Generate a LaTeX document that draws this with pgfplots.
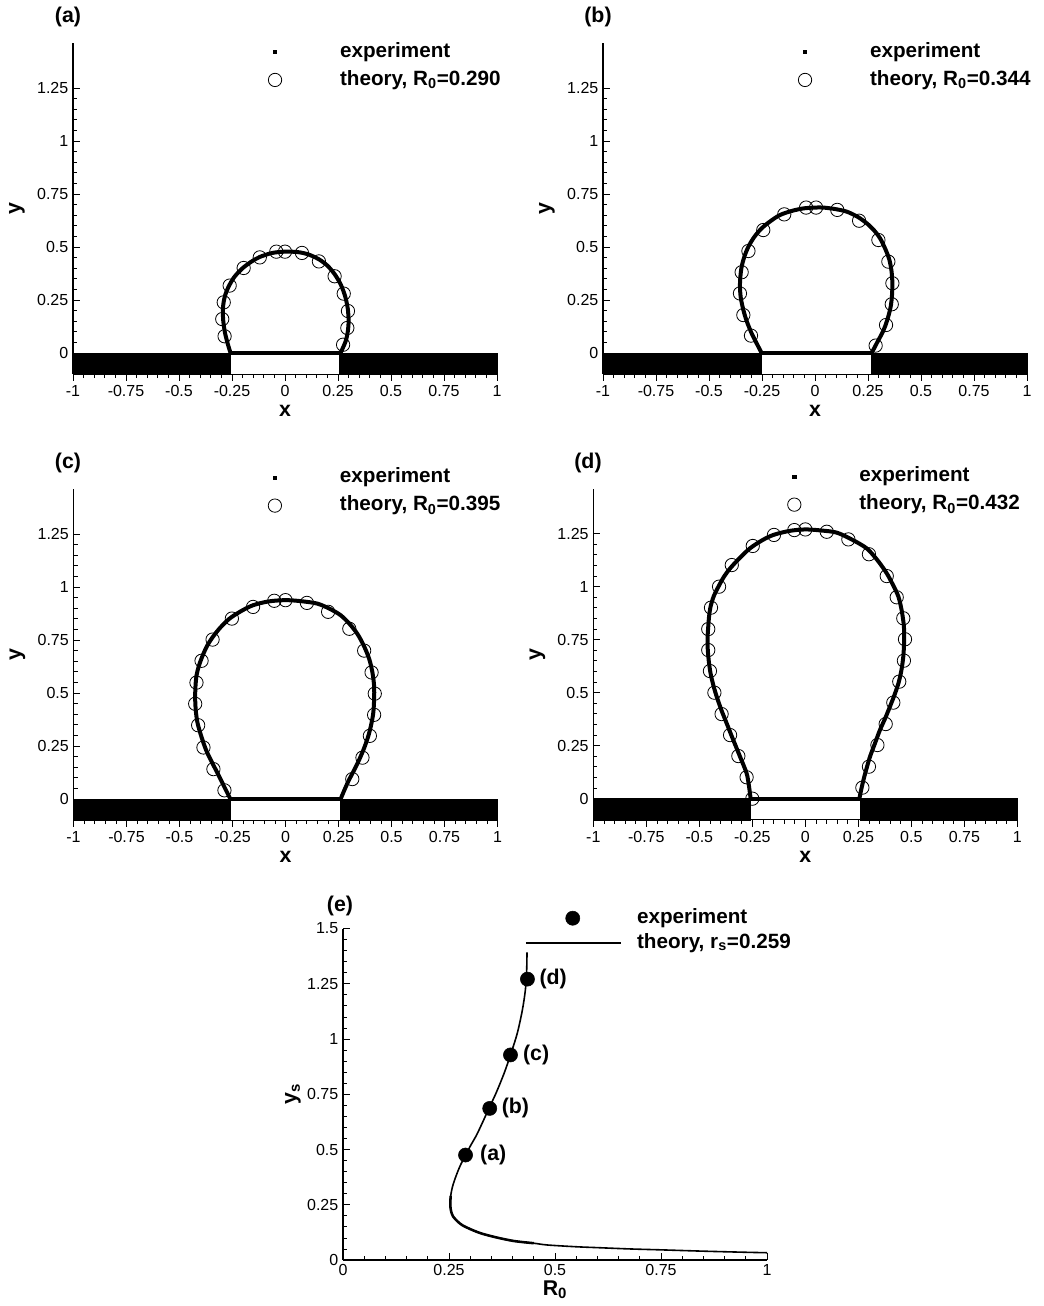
\documentclass[border=0pt]{standalone}
\usepackage{fontspec}
\setmainfont{Liberation Sans}
\usepackage{pgfplots}
\pgfplotsset{compat=1.18}
\pgfplotsset{
  common/.style={
    axis x line*=bottom, axis y line*=left,
    minor x tick num=4, minor y tick num=4,
    major tick length=5pt, minor tick length=3pt,
    tick style={black, line width=0.6pt},
    axis line style={black, line width=0.8pt},
    tick label style={font=\fontsize{12}{14}\selectfont, black},
    /pgf/number format/assume math mode=true,
    clip=false,
    legend cell align=left,
    legend style={draw=none, fill=none, inner sep=0pt, outer sep=0pt,
      font=\bfseries\fontsize{15.5}{18}\selectfont,
      nodes={inner sep=2.5pt, text height=12pt, text depth=4pt}},
  },
  bubble/.style={common, x=159pt, y=159pt, anchor=origin,
    xmin=-1, xmax=1, ymin=-0.1, ymax=1.46,
    xtick={-1,-0.75,-0.5,-0.25,0,0.25,0.5,0.75,1},
    ytick={0,0.25,0.5,0.75,1,1.25},
    xtick align=outside, ytick align=inside,
    xlabel={x}, ylabel={y},
    every axis x label/.style={at={(axis description cs:0.5,-0.112)}, anchor=center, font=\bfseries\fontsize{16}{19}\selectfont},
    every axis y label/.style={at={(axis description cs:-0.132,0.5)}, anchor=center, rotate=90, font=\bfseries\fontsize{16}{19}\selectfont},
  },
  legmark/.style={legend image code/.code={\path[draw=none,fill=none] (-8pt,-3pt) rectangle (46.25pt,3pt); \draw[##1] plot coordinates {(0pt,0pt)};}},
  legdot/.style={legend image code/.code={\path[draw=none,fill=none] (-35.25pt,-3pt) rectangle (46.25pt,3pt); \draw[##1] plot coordinates {(0pt,0pt)};}},
  legline/.style={legend image code/.code={\path[draw=none,fill=none] (-35.25pt,-3pt) rectangle (46.25pt,3pt); \draw[##1] (-35.25pt,0pt) -- (36pt,0pt);}},
  expline/.style={black, line width=3pt, smooth, forget plot},
  baseline/.style={black, line width=3pt, forget plot},
  theo/.style={legmark, black, only marks, mark=o, mark size=5pt, mark options={line width=0.6pt}},
  expleg/.style={legmark, black, only marks, mark=square*, mark size=1.2pt},
  bars/.style={black, fill=black, forget plot},
}
\begin{document}
\begin{tikzpicture}[x=1pt,y=1pt]
\useasboundingbox (0,0) rectangle (782.25,-979.5);
\tikzset{ttl/.style={font=\bfseries\fontsize{16}{19}\selectfont, inner sep=0pt}}
\node[ttl] at (51,-12.75) {(a)};
\node[ttl] at (448.5,-12.75) {(b)};
\node[ttl] at (51,-347.25) {(c)};
\node[ttl] at (441,-347.25) {(d)};
\node[ttl] at (255,-679.5) {(e)};

% ---------------- (a)
\begin{axis}[bubble, at={(213.75pt,-264.75pt)},
  legend style={at={(axis cs:-0.047,1.354)}, anchor=west, xshift=-8pt}]
\addplot[bars] coordinates {(-1,-0.1) (-0.258,-0.1) (-0.258,0) (-1,0) (-1,-0.1)};
\addplot[bars] coordinates {(0.258,-0.1) (1,-0.1) (1,0) (0.258,0) (0.258,-0.1)};
\addplot[baseline] coordinates {(-0.258,0) (0.260,0)};
\addplot[expline] coordinates {(-0.257,0) (-0.272,0.05) (-0.284,0.10) (-0.292,0.16) (-0.292,0.22) (-0.283,0.27) (-0.265,0.315) (-0.238,0.36) (-0.200,0.400) (-0.160,0.430) (-0.119,0.453) (-0.06,0.472) (0,0.478) (0.06,0.476) (0.110,0.465) (0.160,0.442) (0.200,0.412) (0.234,0.372) (0.262,0.325) (0.283,0.27) (0.296,0.21) (0.300,0.15) (0.296,0.10) (0.286,0.055) (0.262,0)};
\addlegendimage{expleg}
\addlegendentry{experiment}
\addplot[theo] coordinates {(-0.285,0.079) (-0.296,0.160) (-0.289,0.239) (-0.261,0.318) (-0.195,0.401) (-0.119,0.451) (-0.041,0.478) (0.0,0.478) (0.080,0.472) (0.160,0.432) (0.234,0.362) (0.277,0.280) (0.297,0.198) (0.294,0.118) (0.274,0.039)};
\addlegendentry{theory, R\textsubscript{0}=0.290}
\end{axis}

% ---------------- (b)
\begin{axis}[bubble, at={(611.25pt,-264.75pt)},
  legend style={at={(axis cs:-0.047,1.354)}, anchor=west, xshift=-8pt}]
\addplot[bars] coordinates {(-1,-0.1) (-0.254,-0.1) (-0.254,0) (-1,0) (-1,-0.1)};
\addplot[bars] coordinates {(0.266,-0.1) (1,-0.1) (1,0) (0.266,0) (0.266,-0.1)};
\addplot[baseline] coordinates {(-0.254,0) (0.266,0)};
\addplot[expline] coordinates {(-0.252,0) (-0.275,0.045) (-0.299,0.093) (-0.322,0.15) (-0.338,0.203) (-0.350,0.26) (-0.354,0.313) (-0.352,0.36) (-0.346,0.407) (-0.333,0.455) (-0.314,0.502) (-0.286,0.548) (-0.252,0.588) (-0.210,0.622) (-0.165,0.651) (-0.110,0.670) (-0.055,0.682) (0,0.686) (0.039,0.686) (0.095,0.679) (0.149,0.667) (0.200,0.643) (0.244,0.612) (0.280,0.577) (0.307,0.541) (0.332,0.49) (0.351,0.439) (0.361,0.385) (0.365,0.329) (0.363,0.27) (0.357,0.219) (0.345,0.17) (0.330,0.124) (0.315,0.09) (0.299,0.061) (0.283,0.03) (0.267,0)};
\addlegendimage{expleg}
\addlegendentry{experiment}
\addplot[theo] coordinates {(-0.302,0.082) (-0.338,0.179) (-0.354,0.281) (-0.346,0.381) (-0.314,0.481) (-0.244,0.580) (-0.145,0.654) (-0.042,0.686) (0.005,0.686) (0.105,0.675) (0.208,0.624) (0.299,0.533) (0.346,0.431) (0.365,0.329) (0.362,0.230) (0.335,0.132) (0.286,0.035)};
\addlegendentry{theory, R\textsubscript{0}=0.344}
\end{axis}

% ---------------- (c)
\begin{axis}[bubble, at={(214.125pt,-599.25pt)},
  legend style={at={(axis cs:-0.05,1.45)}, anchor=west, xshift=-8pt}]
\addplot[bars] coordinates {(-1,-0.1) (-0.260,-0.1) (-0.260,0) (-1,0) (-1,-0.1)};
\addplot[bars] coordinates {(0.260,-0.1) (1,-0.1) (1,0) (0.260,0) (0.260,-0.1)};
\addplot[baseline] coordinates {(-0.260,0) (0.260,0)};
\addplot[expline] coordinates {(-0.260,0) (-0.290,0.06) (-0.320,0.121) (-0.348,0.175) (-0.375,0.232) (-0.397,0.295) (-0.415,0.359) (-0.423,0.415) (-0.426,0.470) (-0.425,0.525) (-0.420,0.581) (-0.408,0.630) (-0.391,0.676) (-0.370,0.722) (-0.344,0.763) (-0.308,0.808) (-0.264,0.851) (-0.210,0.886) (-0.153,0.914) (-0.08,0.932) (0,0.938) (0.075,0.933) (0.149,0.922) (0.207,0.898) (0.260,0.867) (0.302,0.826) (0.339,0.779) (0.370,0.722) (0.395,0.660) (0.410,0.597) (0.418,0.533) (0.418,0.470) (0.414,0.406) (0.404,0.350) (0.390,0.295) (0.370,0.238) (0.347,0.184) (0.323,0.135) (0.299,0.089) (0.279,0.045) (0.260,0)};
\addlegendimage{expleg}
\addlegendentry{experiment}
\addplot[theo] coordinates {(-0.288,0.041) (-0.340,0.141) (-0.387,0.243) (-0.412,0.348) (-0.426,0.449) (-0.420,0.549) (-0.396,0.652) (-0.344,0.752) (-0.253,0.851) (-0.153,0.906) (-0.053,0.935) (0.0,0.938) (0.101,0.925) (0.201,0.883) (0.301,0.803) (0.371,0.700) (0.406,0.597) (0.421,0.497) (0.418,0.397) (0.398,0.298) (0.363,0.195) (0.315,0.094)};
\addlegendentry{theory, R\textsubscript{0}=0.395}
\end{axis}

% ---------------- (d)
\begin{axis}[bubble, at={(604pt,-599pt)},
  legend style={at={(axis cs:-0.052,1.453)}, anchor=west, xshift=-8pt}]
\addplot[bars] coordinates {(-1,-0.1) (-0.258,-0.1) (-0.258,0) (-1,0) (-1,-0.1)};
\addplot[bars] coordinates {(0.258,-0.1) (1,-0.1) (1,0) (0.258,0) (0.258,-0.1)};
\addplot[baseline] coordinates {(-0.258,0) (0.256,0)};
\addplot[expline] coordinates {(-0.258,0) (-0.266,0.06) (-0.277,0.12) (-0.308,0.198) (-0.340,0.277) (-0.371,0.355) (-0.396,0.418) (-0.418,0.481) (-0.434,0.535) (-0.447,0.591) (-0.456,0.654) (-0.461,0.717) (-0.461,0.765) (-0.458,0.811) (-0.454,0.86) (-0.447,0.906) (-0.432,0.955) (-0.410,1.0) (-0.385,1.045) (-0.355,1.086) (-0.310,1.135) (-0.261,1.181) (-0.205,1.218) (-0.151,1.244) (-0.075,1.263) (0,1.27) (0.075,1.265) (0.148,1.255) (0.220,1.222) (0.289,1.181) (0.340,1.125) (0.384,1.063) (0.415,1.005) (0.439,0.953) (0.455,0.885) (0.465,0.811) (0.466,0.74) (0.462,0.670) (0.453,0.605) (0.439,0.544) (0.420,0.488) (0.399,0.434) (0.377,0.38) (0.352,0.324) (0.328,0.26) (0.305,0.198) (0.288,0.14) (0.274,0.088) (0.263,0.04) (0.255,0)};
\addlegendimage{expleg}
\addlegendentry{experiment}
\addplot[theo] coordinates {(-0.250,0.0) (-0.277,0.101) (-0.316,0.201) (-0.355,0.300) (-0.395,0.399) (-0.429,0.500) (-0.450,0.602) (-0.458,0.701) (-0.458,0.800) (-0.445,0.901) (-0.407,1.000) (-0.347,1.102) (-0.248,1.192) (-0.148,1.244) (-0.052,1.267) (0.0,1.270) (0.101,1.259) (0.203,1.223) (0.300,1.153) (0.384,1.050) (0.431,0.950) (0.462,0.851) (0.470,0.752) (0.465,0.651) (0.443,0.552) (0.415,0.453) (0.379,0.352) (0.340,0.253) (0.300,0.151) (0.269,0.052)};
\addlegendentry{theory, R\textsubscript{0}=0.432}
\end{axis}

% ---------------- (e)
\begin{axis}[common, x=318pt, y=165.75pt, anchor=origin, at={(257.25pt,-945pt)},
  xmin=0, xmax=1, ymin=0, ymax=1.5,
  xtick={0,0.25,0.5,0.75,1}, ytick={0,0.25,0.5,0.75,1,1.25,1.5},
  tick align=inside,
  xlabel={R\textsubscript{0}}, ylabel={y\textsubscript{s}},
  every axis x label/.style={at={(axis description cs:0.5,-0.09)}, anchor=center, font=\bfseries\fontsize{16}{19}\selectfont},
  every axis y label/.style={at={(axis description cs:-0.118,0.5)}, anchor=center, rotate=90, font=\bfseries\fontsize{16}{19}\selectfont},
  legend style={at={(axis cs:0.54,1.49)}, anchor=west, xshift=-35.25pt,
    nodes={inner sep=2pt, text height=11pt, text depth=3.75pt}}]
\addlegendimage{legdot, black, only marks, mark=*, mark size=5.3pt}
\addlegendentry{experiment}
\addplot[legline, black, line width=1.2pt, smooth] coordinates {(0.434,1.392) (0.433,1.30) (0.430,1.22) (0.423,1.131) (0.411,1.026) (0.395,0.928) (0.380,0.845) (0.362,0.76) (0.344,0.685) (0.317,0.573) (0.303,0.525) (0.289,0.475) (0.276,0.425) (0.266,0.377) (0.258,0.33) (0.254,0.29) (0.253,0.25) (0.255,0.22) (0.260,0.196) (0.270,0.175) (0.281,0.158) (0.300,0.14) (0.325,0.121) (0.360,0.103) (0.403,0.086) (0.45,0.076) (0.482,0.068) (0.55,0.060) (0.60,0.056) (0.678,0.050) (0.75,0.046) (0.85,0.040) (0.95,0.035) (1.0,0.033)};
\addlegendentry{theory, r\textsubscript{s}=0.259}
\addplot[black, line width=1.9pt, smooth, forget plot] coordinates {(0.254,0.29) (0.253,0.25) (0.255,0.22) (0.260,0.196) (0.270,0.175) (0.281,0.158) (0.300,0.14) (0.325,0.121) (0.360,0.103) (0.403,0.086) (0.45,0.076)};
\addplot[black, only marks, mark=*, mark size=5.3pt, forget plot] coordinates {(0.289,0.475) (0.346,0.686) (0.395,0.928) (0.435,1.271)};
\node[anchor=west, inner sep=0pt, font=\bfseries\fontsize{16}{19}\selectfont] at (axis cs:0.323,0.475) {(a)};
\node[anchor=west, inner sep=0pt, font=\bfseries\fontsize{16}{19}\selectfont] at (axis cs:0.374,0.686) {(b)};
\node[anchor=west, inner sep=0pt, font=\bfseries\fontsize{16}{19}\selectfont] at (axis cs:0.424,0.928) {(c)};
\node[anchor=west, inner sep=0pt, font=\bfseries\fontsize{16}{19}\selectfont] at (axis cs:0.463,1.271) {(d)};
\end{axis}
\end{tikzpicture}
\end{document}
